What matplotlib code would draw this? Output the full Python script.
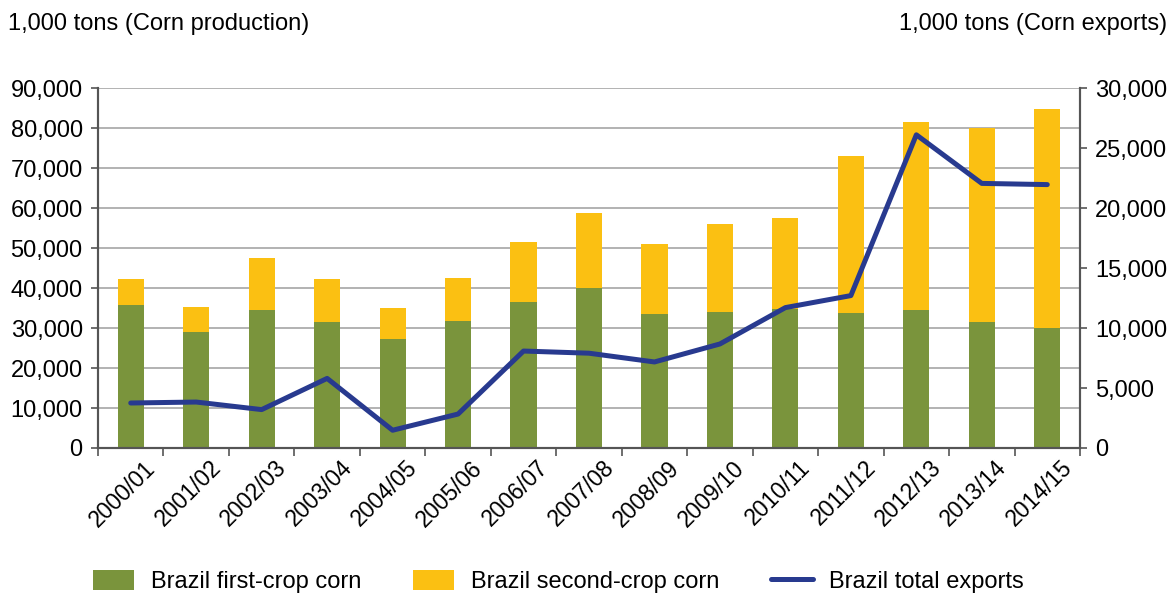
import numpy as np
import matplotlib.pyplot as plt
from matplotlib.ticker import FuncFormatter

plt.rcParams['font.family'] = ['Liberation Sans', 'DejaVu Sans']

# ---------------------------------------------------------
# Data (1,000 tons)
# ---------------------------------------------------------
years = ["2000/01", "2001/02", "2002/03", "2003/04", "2004/05", "2005/06",
         "2006/07", "2007/08", "2008/09", "2009/10", "2010/11", "2011/12",
         "2012/13", "2013/14", "2014/15"]
first_crop = [35750, 29000, 34600, 31500, 27250, 31750, 36500, 40000,
              33600, 34000, 34750, 33750, 34600, 31500, 30100]
total_prod = [42250, 35250, 47400, 42200, 35000, 42500, 51400, 58700,
              51000, 56100, 57500, 73100, 81600, 80100, 84750]
exports = [3750, 3830, 3200, 5800, 1480, 2830, 8080, 7900, 7170, 8670,
           11700, 12700, 26100, 22050, 21950]

second_crop = [t - f for t, f in zip(total_prod, first_crop)]

green = "#7a943c"
yellow = "#fbc012"
navy = "#283a8f"
axis_col = "#555555"
fs = 17

# ---------------------------------------------------------
# Plot
# ---------------------------------------------------------
fig = plt.figure(figsize=(11.75, 6.06), dpi=100)
ax = fig.add_axes([98 / 1175, 1 - 448 / 606, (1080 - 98) / 1175, 360 / 606])
ax2 = ax.twinx()

x = np.arange(len(years))
ax.bar(x, first_crop, width=0.4, color=green, label="Brazil first-crop corn", zorder=2)
ax.bar(x, second_crop, width=0.4, bottom=first_crop, color=yellow,
       label="Brazil second-crop corn", zorder=2)
ax2.plot(x, exports, color=navy, linewidth=3.6, solid_capstyle="round",
         label="Brazil total exports", zorder=3)

ax.set_xlim(-0.5, len(years) - 0.5)
ax.set_ylim(0, 90000)
ax2.set_ylim(0, 30000)
ax.set_yticks(np.arange(0, 90001, 10000))
ax2.set_yticks(np.arange(0, 30001, 5000))
fmt = FuncFormatter(lambda v, p: f"{int(v):,}")
ax.yaxis.set_major_formatter(fmt)
ax2.yaxis.set_major_formatter(fmt)

ax.grid(axis="y", color="#a6a6a6", linewidth=1.2, zorder=0)
ax.set_axisbelow(True)

# x ticks: marks between categories, labels centered under bars
ax.set_xticks(np.arange(-0.5, len(years), 1.0))
ax.set_xticklabels([])
ax.set_xticks(x + 0.2, minor=True)
ax.set_xticklabels(years, minor=True, rotation=45, ha="right",
                   rotation_mode="anchor", fontsize=fs - 0.5)
ax.tick_params(axis="x", which="minor", length=0, pad=6)
ax.tick_params(axis="x", which="major", length=6, width=1.2, color=axis_col)

ax.tick_params(axis="y", length=5, width=1.2, color=axis_col, labelsize=fs, pad=6)
ax2.tick_params(axis="y", length=5, width=1.2, color=axis_col, labelsize=fs, pad=6)

for a in (ax, ax2):
    a.spines["top"].set_visible(False)
    for s in ("left", "right", "bottom"):
        a.spines[s].set_color(axis_col)
        a.spines[s].set_linewidth(1.5)

fig.text(8 / 1175, 1 - 24 / 606, "1,000 tons (Corn production)", fontsize=fs,
         ha="left", va="center")
fig.text(1167 / 1175, 1 - 24 / 606, "1,000 tons (Corn exports)", fontsize=fs,
         ha="right", va="center")

h1, l1 = ax.get_legend_handles_labels()
h2, l2 = ax2.get_legend_handles_labels()
fig.legend(h1 + h2, l1 + l2, loc="lower left", bbox_to_anchor=(80 / 1175, 0.0),
           ncol=3, frameon=False, fontsize=fs, handlelength=1.75, handleheight=0.9,
           handletextpad=0.7, columnspacing=2.2, borderaxespad=0.15)

fig.savefig("out.png", dpi=100)
